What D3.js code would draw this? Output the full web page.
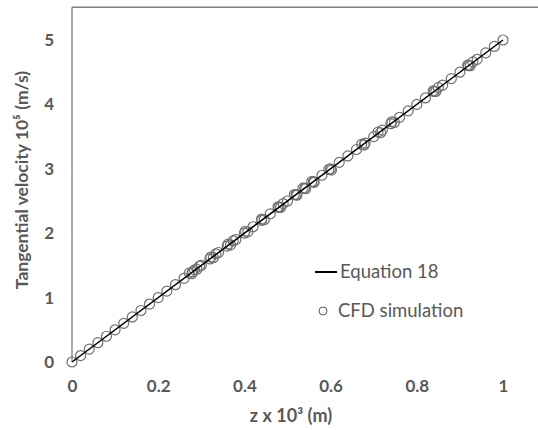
<!DOCTYPE html>
<html><head><meta charset="utf-8">
<script src="https://cdn.jsdelivr.net/npm/d3@7"></script>
<style>body{margin:0;background:#fff}svg{display:block}</style>
</head><body>
<script>
// Data
const xTicks = [0, 0.2, 0.4, 0.6, 0.8, 1];
const yTicks = [0, 1, 2, 3, 4, 5];
const xTickLabels = ["0", "0.2", "0.4", "0.6", "0.8", "1"];
const yTickLabels = ["0", "1", "2", "3", "4", "5"];
const eqZ = [0, 1];
const eqV = [0, 5];
const cfdZ = [0,0.02,0.04,0.06,0.08,0.10,0.12,0.14,0.16,0.18,0.20,0.22,0.24,0.26,0.28,0.30,0.32,0.34,0.36,0.38,0.40,0.42,0.44,0.46,0.48,0.50,0.52,0.54,0.56,0.58,0.60,0.62,0.64,0.66,0.68,0.70,0.72,0.74,0.76,0.78,0.80,0.82,0.84,0.86,0.88,0.90,0.92,0.94,0.96,0.98,1.0,
  0.272,0.278,0.284,0.290,0.296,0.322,0.328,0.334,0.362,0.368,0.374,0.402,0.408,0.440,0.446,0.478,0.484,0.490,0.516,0.522,0.536,0.542,0.556,0.562,0.596,0.602,0.672,0.678,0.710,0.716,0.742,0.748,0.838,0.844,0.850,0.918,0.924,0.930];
const cfdV = [0,0.10,0.20,0.30,0.40,0.50,0.60,0.70,0.80,0.90,1.00,1.10,1.20,1.30,1.40,1.50,1.60,1.70,1.80,1.90,2.00,2.10,2.20,2.30,2.40,2.50,2.60,2.70,2.80,2.90,3.00,3.10,3.20,3.30,3.40,3.50,3.60,3.70,3.80,3.90,4.00,4.10,4.20,4.30,4.40,4.50,4.60,4.70,4.80,4.90,5.00,
  1.38,1.37,1.43,1.44,1.49,1.63,1.62,1.68,1.83,1.82,1.88,2.03,2.02,2.22,2.21,2.41,2.40,2.46,2.60,2.59,2.70,2.69,2.80,2.79,2.99,2.98,3.38,3.37,3.57,3.56,3.73,3.72,4.21,4.20,4.26,4.61,4.60,4.66];
const legendLabels = ["Equation 18", "CFD simulation"];
const xTitle = "z x 10³ (m)";
const yTitle = "Tangential velocity 10⁵ (m/s)";

const W = 538, H = 430;
const svg = d3.select("body").append("svg").attr("width", W).attr("height", H);
const x = d3.scaleLinear().domain([0, 1]).range([72, 503]);
const y = d3.scaleLinear().domain([0, 5]).range([362, 40]);
const tickColor = "#595959";
const font = "Lato, 'Open Sans', sans-serif";

// top border of plot area
svg.append("line").attr("x1", x(0)).attr("x2", W).attr("y1", y(5.51)).attr("y2", y(5.51))
  .attr("stroke", "#7f7f7f").attr("stroke-width", 1.5);

// y axis
const yAxis = d3.axisLeft(y).tickValues(yTicks).tickSize(0).tickPadding(18)
  .tickFormat((d, i) => yTickLabels[i]);
const ga = svg.append("g").attr("transform", `translate(${x(0)},0)`).call(yAxis);
ga.select(".domain").attr("stroke", "#8c8c8c").attr("stroke-width", 1.5).attr("d", `M0,${y(5.51)}V${y(0)}`);
ga.selectAll("text").attr("font-family", font).attr("font-size", 17).attr("font-weight", "bold").attr("fill", tickColor);

// x axis (no line)
const xAxis = d3.axisBottom(x).tickValues(xTicks).tickSize(0).tickPadding(18)
  .tickFormat((d, i) => xTickLabels[i]);
const gx = svg.append("g").attr("transform", `translate(0,${y(0)})`).call(xAxis);
gx.select(".domain").remove();
gx.selectAll("text").attr("font-family", font).attr("font-size", 17).attr("font-weight", "bold").attr("fill", tickColor);

// titles
svg.append("text").attr("x", 291).attr("y", 422).attr("text-anchor", "middle")
  .attr("font-family", font).attr("font-size", 18).attr("font-weight", "bold").attr("fill", tickColor).text(xTitle);
svg.append("text").attr("transform", `translate(28,180) rotate(-90)`).attr("text-anchor", "middle")
  .attr("font-family", font).attr("font-size", 17.5).attr("font-weight", "bold").attr("fill", tickColor).text(yTitle);

// CFD markers
const pts = cfdZ.map((d, i) => [d, cfdV[i]]);
svg.append("g").selectAll("circle").data(pts).join("circle")
  .attr("cx", d => x(d[0])).attr("cy", d => y(d[1])).attr("r", 5)
  .attr("fill", "none").attr("stroke", "#707070").attr("stroke-width", 1.2);

// Equation line
const line = d3.line().x(d => x(d[0])).y(d => y(d[1]));
svg.append("path").datum(eqZ.map((d, i) => [d, eqV[i]])).attr("d", line)
  .attr("fill", "none").attr("stroke", "#000").attr("stroke-width", 1.5);

// legend
svg.append("line").attr("x1", 315).attr("x2", 337).attr("y1", 272).attr("y2", 272)
  .attr("stroke", "#000").attr("stroke-width", 2);
svg.append("text").attr("x", 340).attr("y", 278).attr("font-family", font).attr("font-size", 18.5)
  .attr("fill", tickColor).text(legendLabels[0]);
svg.append("circle").attr("cx", 323).attr("cy", 311).attr("r", 4)
  .attr("fill", "none").attr("stroke", "#595959").attr("stroke-width", 1);
svg.append("text").attr("x", 338).attr("y", 317).attr("font-family", font).attr("font-size", 18.5)
  .attr("fill", tickColor).text(legendLabels[1]);
</script>
</body></html>
